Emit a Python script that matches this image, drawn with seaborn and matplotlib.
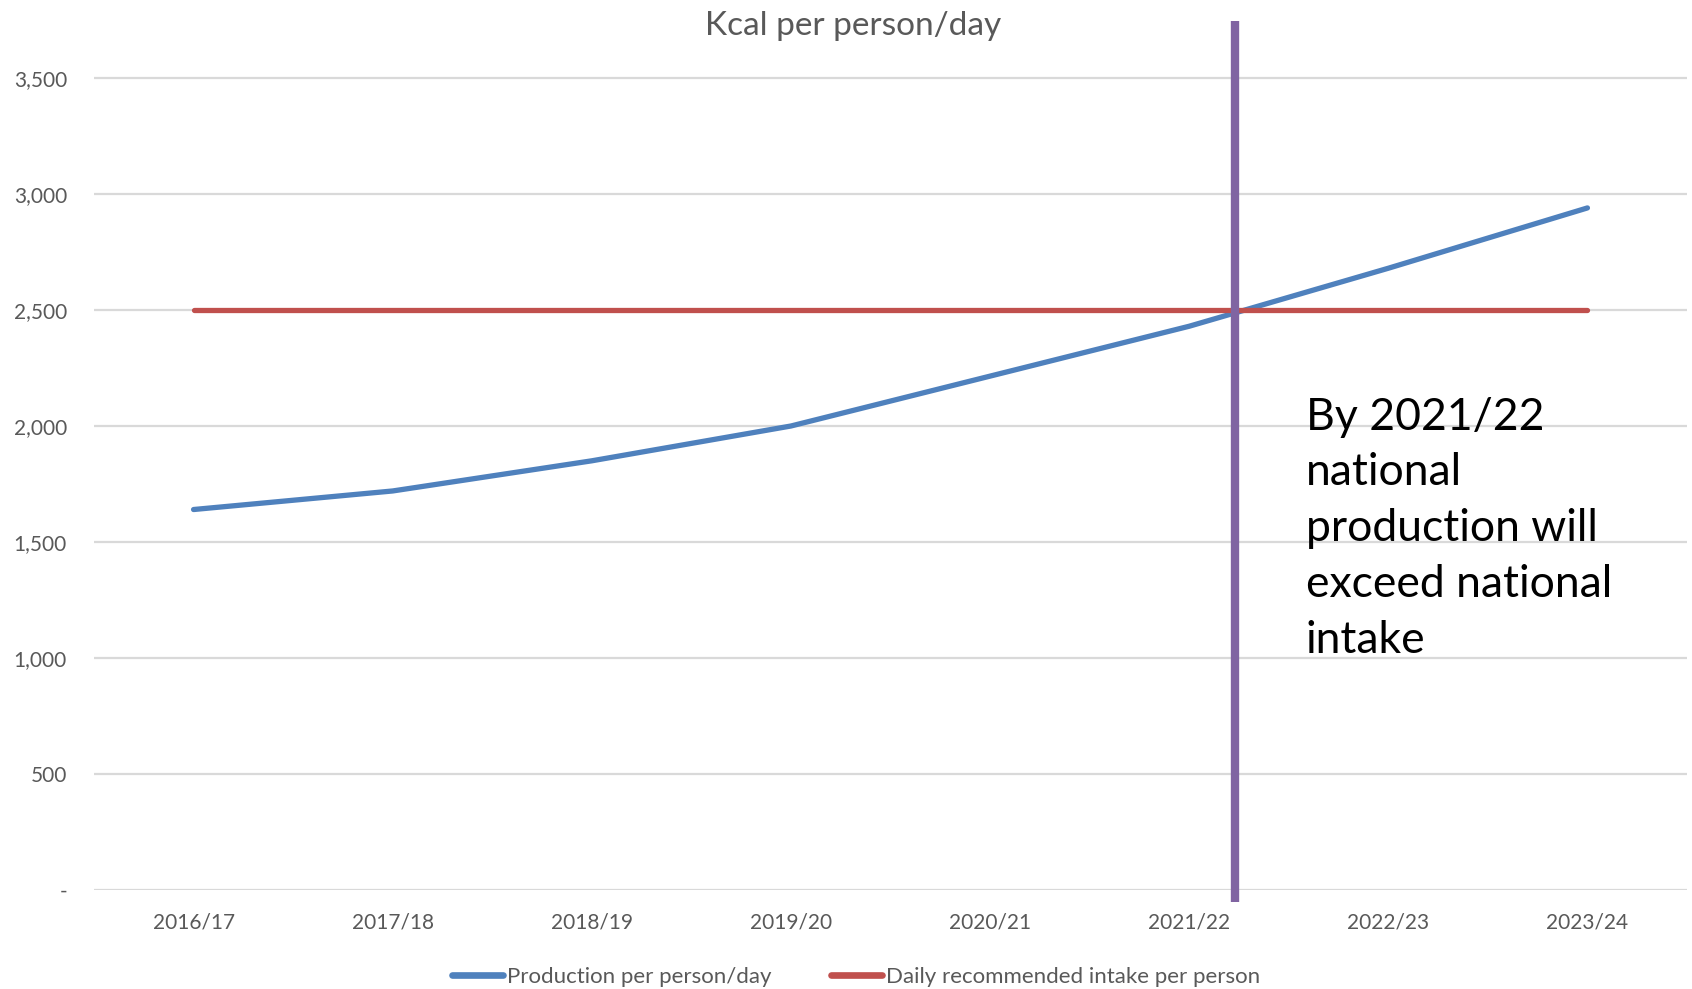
import numpy as np
import pandas as pd
import seaborn as sns
import matplotlib.pyplot as plt

years = ["2016/17", "2017/18", "2018/19", "2019/20", "2020/21", "2021/22", "2022/23", "2023/24"]
production = [1640, 1720, 1850, 2000, 2215, 2430, 2680, 2940]
recommended = [2500, 2500, 2500, 2500, 2500, 2500, 2500, 2500]
series_names = ["Production per person/day", "Daily recommended intake per person"]
crossover_x = 5.23  # where production meets the recommended intake
note = "By 2021/22\nnational\nproduction will\nexceed national\nintake"

def build_frame():
    rows = []
    for name, vals in zip(series_names, [production, recommended]):
        for i, v in enumerate(vals):
            rows.append({"pos": i, "kcal": v, "series": name})
    return pd.DataFrame(rows)

def make_chart():
    df = build_frame()
    sns.set_style("white")
    plt.rcParams["font.family"] = ["Lato", "DejaVu Sans"]
    grey = "#595959"

    fig = plt.figure(figsize=(16.92, 9.89), dpi=100)
    ax = fig.add_axes([94 / 1692, 0.1001, 1593 / 1692, 0.8914])

    sns.lineplot(data=df, x="pos", y="kcal", hue="series", palette=["#4F81BD", "#C0504D"],
                 linewidth=3.8, ax=ax, legend=False, solid_capstyle="round", zorder=3)

    ax.set_xlim(-0.5, len(years) - 0.5)
    ax.set_ylim(0, 3800)
    ax.set_yticks(np.arange(0, 3501, 500))
    ax.set_yticklabels(["-"] + ["{:,}".format(v) for v in range(500, 3501, 500)])
    ax.set_xticks(np.arange(len(years)))
    ax.set_xticklabels(years)
    ax.tick_params(axis="both", length=0, labelsize=15, colors=grey)
    ax.tick_params(axis="y", pad=19.5)
    ax.tick_params(axis="x", pad=16)
    ax.set_xlabel("")
    ax.set_ylabel("")
    for s in ax.spines.values():
        s.set_visible(False)
    for yv in range(0, 3501, 500):
        ax.axhline(yv, color="#D9D9D9", lw=1.6, zorder=1)

    ax.plot([crossover_x, crossover_x], [-50, 3745], color="#8064A2", lw=6, clip_on=False,
            solid_capstyle="butt", zorder=4)

    ax.text(5.585, 1557, note, fontsize=32, color="black", va="center", ha="left",
            linespacing=1.45, family=["Lato", "DejaVu Sans"])

    fig.text(853 / 1692, 1 - 26 / 989, "Kcal per person/day", ha="center", va="center",
             fontsize=24, color=grey)

    handles = [plt.Line2D([], [], color=c, lw=4.8) for c in ["#4F81BD", "#C0504D"]]
    fig.legend(handles, series_names, loc="center", bbox_to_anchor=(856 / 1692, 1 - 977 / 989),
               ncol=2, frameon=False, fontsize=16, labelcolor=grey, handlelength=2.3,
               handletextpad=0.15, columnspacing=2.7)

    plt.savefig("out.png", dpi=100)

if __name__ == "__main__":
    make_chart()
